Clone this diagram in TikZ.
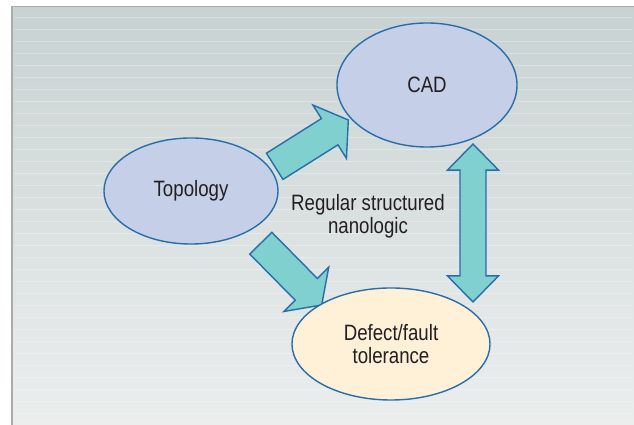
\documentclass[tikz,border=0pt]{standalone}
\usepackage{fontspec}
\newfontfamily\condsans{Liberation Sans}[FakeStretch=0.84]
\usepackage{tikz}
\usetikzlibrary{calc}
\usetikzlibrary{positioning,shapes.geometric}
\definecolor{bgtop}{RGB}{200,210,210}
\definecolor{bgbottom}{RGB}{236,238,238}
\definecolor{ovalblue}{RGB}{197,207,232}
\definecolor{ovalcream}{RGB}{255,240,216}
\definecolor{edgeblue}{RGB}{40,110,170}
\definecolor{arrowteal}{RGB}{128,208,208}
\definecolor{inkgray}{RGB}{35,31,32}
\colorlet{framegray}{black!33}

% fat arrow: tail #1, tip #2
\newcommand{\fatarrow}[2]{%
\coordinate (hb) at ($(#1)!0.747!(#2)$);
\draw[BlockArrows] ($(#1)!0.3875cm!90:(#2)$) -- ($(hb)!0.3875cm!90:(#2)$) -- ($(hb)!0.7875cm!90:(#2)$) -- (#2)
  -- ($(hb)!0.7875cm!-90:(#2)$) -- ($(hb)!0.3875cm!-90:(#2)$) -- ($(#1)!0.3875cm!-90:(#2)$) -- cycle;
}
% fat arrow with two heads
\newcommand{\twowayarrow}[2]{%
\coordinate (hba) at ($(#1)!0.165!(#2)$);
\coordinate (hbb) at ($(#1)!0.835!(#2)$);
\draw[BlockArrows] (#1) -- ($(hba)!0.6375cm!90:(#2)$) -- ($(hba)!0.325cm!90:(#2)$) -- ($(hbb)!0.325cm!90:(#2)$)
  -- ($(hbb)!0.6375cm!90:(#2)$) -- (#2) -- ($(hbb)!0.6375cm!-90:(#2)$) -- ($(hbb)!0.325cm!-90:(#2)$)
  -- ($(hba)!0.325cm!-90:(#2)$) -- ($(hba)!0.6375cm!-90:(#2)$) -- cycle;
}

\begin{document}
\begin{tikzpicture}[
x=0.025cm, y=-0.025cm,
Bubble/.style={ellipse,draw=edgeblue,fill=ovalblue,line width=1pt,inner sep=0pt,text=inkgray,
  font=\condsans\fontsize{15.8}{16.4}\selectfont,align=center},
BlockArrows/.style={draw=edgeblue,fill=arrowteal,line width=1pt,line join=miter},
Stripes/.style={white,opacity=0.28,line width=0.6pt}
]

\useasboundingbox (0,0) rectangle (634,425);

\shade[top color=bgtop, bottom color=bgbottom] (12,6.5) rectangle (634,425);
\foreach \yy in {17,29,...,413}
  \draw[Stripes] (14,\yy) -- (632,\yy);
\draw[framegray, line width=1.3pt] (12,425) -- (12,6.5) -- (634,6.5);

% arrow ends
\coordinate (topo-cad-tail) at (274.7,166.3);
\coordinate (topo-cad-tip) at (348.3,120);
\coordinate (topo-def-tail) at (260.8,243.2);
\coordinate (topo-def-tip) at (321.7,305);
\coordinate (cad-def-top) at (473,144);
\coordinate (cad-def-bot) at (473,302);

\fatarrow{topo-cad-tail}{topo-cad-tip}
\fatarrow{topo-def-tail}{topo-def-tip}
\twowayarrow{cad-def-top}{cad-def-bot}

\node[Bubble, minimum width=4.5cm, minimum height=3.1cm] (cad) at (427,85) {CAD};
\node[Bubble, minimum width=4.35cm, minimum height=2.65cm] (topo) at (191,191) {Topology};
\node[Bubble, fill=ovalcream, minimum width=4.95cm, minimum height=2.8cm] (defect) at (391,344) {Defect/fault\\tolerance};

\node[text=inkgray, font=\condsans\fontsize{15.8}{16.4}\selectfont, align=center] (nano) at (368,216) {Regular structured\\nanologic};

\end{tikzpicture}
\end{document}
